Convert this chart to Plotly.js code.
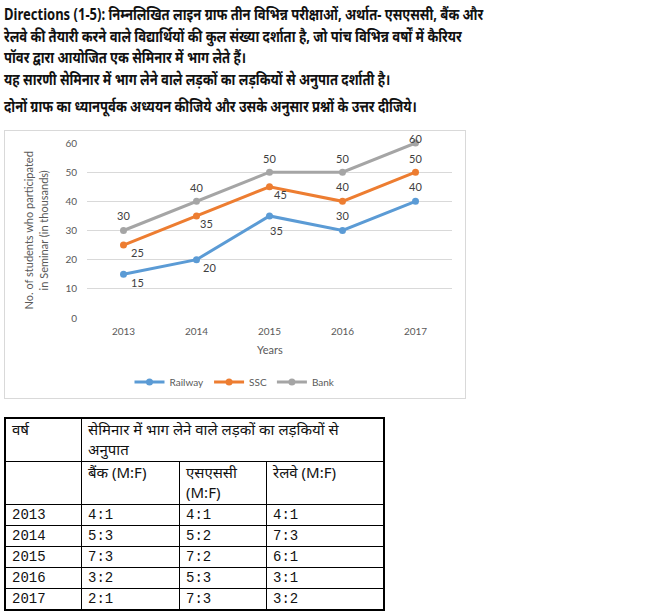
<!DOCTYPE html>
<html>
<head>
<meta charset="utf-8">
<script src="https://cdn.plot.ly/plotly-3.0.1.min.js"></script>
<style>
  body { margin: 0; background: #fff; width: 646px; height: 616px; position: relative; overflow: hidden; }
  #intro { position: absolute; left: 4px; top: 4px; width: 760px; font-family: "Noto Sans", "Liberation Sans", sans-serif; font-weight: bold; font-size: 15.5px; line-height: 21.5px; color: #111; transform: scaleX(0.84); transform-origin: left top; white-space: nowrap; }
  #intro p { margin: 0; }
  #intro p.gap { margin-top: 6px; }
  #chart-box { position: absolute; left: 4px; top: 130px; width: 460px; height: 267px; border: 1px solid #d9d9d9; }
  #chart { width: 460px; height: 267px; }
  #ratio-table { position: absolute; left: 4px; top: 417px; border-collapse: collapse; border: 2px solid #000; font-family: "Noto Sans", "Liberation Sans", sans-serif; font-size: 15px; color: #111; }
  #ratio-table td { border: 1px solid #000; padding: 0 6px; vertical-align: top; line-height: 20px; text-align: left; }
  #ratio-table td.num { font-family: "Liberation Mono", monospace; font-size: 14px; }
</style>
</head>
<body>
<div id="intro">
  <p>Directions (1-5): निम्नलिखित लाइन ग्राफ तीन विभिन्न परीक्षाओं, अर्थात- एसएससी, बैंक और<br>रेलवे की तैयारी करने वाले विद्यार्थियों की कुल संख्या दर्शाता है, जो पांच विभिन्न वर्षों में कैरियर<br>पॉवर द्वारा आयोजित एक सेमिनार में भाग लेते हैं।</p>
  <p>यह सारणी सेमिनार में भाग लेने वाले लड़कों का लड़कियों से अनुपात दर्शाती है।</p>
  <p class="gap">दोनों ग्राफ का ध्यानपूर्वक अध्ययन कीजिये और उसके अनुसार प्रश्नों के उत्तर दीजिये।</p>
</div>
<div id="chart-box"><div id="chart"></div></div>
<table id="ratio-table"></table>
<script>
const years = ["2013", "2014", "2015", "2016", "2017"];
const railway = [15, 20, 35, 30, 40];
const ssc = [25, 35, 45, 40, 50];
const bank = [30, 40, 50, 50, 60];

const bankRatio = ["4:1", "5:3", "7:3", "3:2", "2:1"];
const sscRatio = ["4:1", "5:2", "7:2", "5:3", "7:3"];
const railwayRatio = ["4:1", "7:3", "6:1", "3:1", "3:2"];

const colors = { railway: "#5b9bd5", ssc: "#ed7d31", bank: "#a5a5a5", grid: "#d9d9d9", text: "#595959" };
const chartFont = "Lato, 'Open Sans', sans-serif";

// label offsets in pixels [dx, dy down] per point
const railwayOff = [[14, 8], [13, 8], [7, 15], [0, -15], [0, -15]];
const sscOff = [[14, 7], [10, 8], [11, 8], [0, -15], [0, -14]];
const bankOff = [[0, -15], [0, -14], [0, -14], [0, -14], [0, -5]];

function series(name, values, color) {
  return {
    x: years, y: values, name, type: "scatter", mode: "lines+markers",
    line: { color, width: 3 }, marker: { color, size: 7 }, cliponaxis: false
  };
}

// category index is used for x, since "2013" as a string would be read as a number
function labels(values, offsets) {
  return values.map((v, i) => ({
    x: i, y: v, text: String(v), showarrow: false,
    xshift: offsets[i][0], yshift: -offsets[i][1],
    font: { family: chartFont, size: 11, color: "#404040" }
  }));
}

Plotly.newPlot("chart", [
  series("Railway", railway, colors.railway),
  series("SSC", ssc, colors.ssc),
  series("Bank", bank, colors.bank)
], {
  width: 460, height: 267,
  margin: { l: 82, r: 13, t: 12, b: 80 },
  paper_bgcolor: "#ffffff", plot_bgcolor: "#ffffff",
  font: { family: chartFont, size: 10, color: colors.text },
  showlegend: true,
  legend: { orientation: "h", xref: "container", yref: "container", x: 0.5, xanchor: "center", y: 0.06, yanchor: "middle", font: { size: 10, color: colors.text }, itemwidth: 30, tracegroupgap: 0 },
  xaxis: {
    type: "category", range: [-0.5, 4.5], showgrid: false, zeroline: false, showline: false, automargin: false,
    ticks: "", ticklabelstandoff: 6, tickfont: { size: 10, color: colors.text }
  },
  yaxis: {
    range: [0, 60], dtick: 10, gridcolor: colors.grid, gridwidth: 1, zeroline: false, showline: false, automargin: false,
    ticks: "", ticklabelstandoff: 9, tickfont: { size: 10, color: colors.text }
  },
  annotations: [
    ...labels(railway, railwayOff),
    ...labels(ssc, sscOff),
    ...labels(bank, bankOff),
    {
      text: "No. of students who participated<br>in Seminar (in thousands)",
      xref: "paper", yref: "paper", x: -0.14, y: 0.5, xanchor: "center", yanchor: "middle",
      textangle: -90, showarrow: false, font: { size: 11, color: colors.text }
    },
    {
      text: "Years", xref: "paper", yref: "paper", x: 0.5, y: 0, yanchor: "middle", yshift: -31,
      showarrow: false, font: { size: 11, color: colors.text }
    }
  ]
}, { displayModeBar: false, staticPlot: true });

const table = document.querySelector("#ratio-table");
const headRows = `
  <tr><td style="width:63px">वर्ष</td><td colspan="3" style="height:42px">सेमिनार में भाग लेने वाले लड़कों का लड़कियों से<br>अनुपात</td></tr>
  <tr><td></td><td style="width:85px;height:42px">बैंक (M:F)</td><td style="width:74px">एसएससी<br>(M:F)</td><td style="width:104px">रेलवे (M:F)</td></tr>`;
table.innerHTML = headRows + years.map((y, i) =>
  `<tr><td class="num">${y}</td><td class="num">${bankRatio[i]}</td><td class="num">${sscRatio[i]}</td><td class="num">${railwayRatio[i]}</td></tr>`
).join("");
</script>
</body>
</html>
